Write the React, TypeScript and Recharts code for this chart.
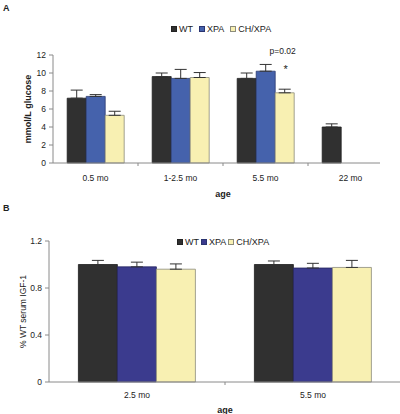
import { BarChart, Bar, XAxis, YAxis, ErrorBar, Legend, LabelList } from "recharts";

// Panel A: blood glucose
const agesA = ["0.5 mo", "1-2.5 mo", "5.5 mo", "22 mo"];
const wtA = [7.2, 9.6, 9.4, 4.0];
const wtErrA = [0.9, 0.4, 0.6, 0.35];
const xpaA = [7.4, 9.4, 10.2, null];
const xpaErrA = [0.2, 1.0, 0.75, null];
const chA = [5.3, 9.5, 7.8, null];
const chErrA = [0.45, 0.55, 0.4, null];
const starA = ["", "", "*", ""];
const pValA = ["", "", "p=0.02", ""];
const ticksA = [0, 2, 4, 6, 8, 10, 12];

// Panel B: serum IGF-1 relative to WT
const agesB = ["2.5 mo", "5.5 mo"];
const wtB = [1.0, 1.0];
const wtErrB = [0.035, 0.03];
const xpaB = [0.98, 0.97];
const xpaErrB = [0.04, 0.04];
const chB = [0.96, 0.975];
const chErrB = [0.045, 0.06];
const ticksB = [0, 0.4, 0.8, 1.2];

const err = (e: number | null) => (e == null ? null : [0, e]);

const dataA = agesA.map((age, i) => ({
  age,
  WT: wtA[i],
  wtErr: err(wtErrA[i]),
  XPA: xpaA[i],
  xpaErr: err(xpaErrA[i]),
  CH: chA[i],
  chErr: err(chErrA[i]),
  star: starA[i],
  p: pValA[i],
}));

const dataB = agesB.map((age, i) => ({
  age,
  WT: wtB[i],
  wtErr: err(wtErrB[i]),
  XPA: xpaB[i],
  xpaErr: err(xpaErrB[i]),
  CH: chB[i],
  chErr: err(chErrB[i]),
}));

const FONT = '"Liberation Sans", Arial, sans-serif';
const AXIS = "#8a8a8a";
const INK = "#222";

const makeLegend = (xpaColor: string, gap: number) => () => (
  <div style={{ display: "flex", alignItems: "center", fontSize: 9, color: INK, whiteSpace: "nowrap", fontFamily: FONT }}>
    {[
      { name: "WT", color: "#303030", border: "#222" },
      { name: "XPA", color: xpaColor, border: "#2a3470" },
      { name: "CH/XPA", color: "#f8f0b2", border: "#8c8c7c" },
    ].map((s) => (
      <span key={s.name} style={{ display: "flex", alignItems: "center", marginRight: gap }}>
        <span style={{ width: 4, height: 4, background: s.color, border: `1px solid ${s.border}`, marginRight: 2 }} />
        {s.name}
      </span>
    ))}
  </div>
);

const makeTick = (half: number, baseline: number, rightEdge: boolean) => (props: any) => {
  const { x, y, payload, index, visibleTicksCount } = props;
  const off = payload.offset || half;
  return (
    <g>
      {index > 0 && <line x1={x - off} x2={x - off} y1={y} y2={y + 3} stroke={AXIS} />}
      {rightEdge && index === visibleTicksCount - 1 && (
        <line x1={x + off} x2={x + off} y1={y} y2={y + 3} stroke={AXIS} />
      )}
      <text x={x} y={y + baseline} textAnchor="middle" fontSize={8.5} fill={INK} fontFamily={FONT}>
        {payload.value}
      </text>
    </g>
  );
};

// rotated y-axis title at a fixed x, centred on the plot height
const yTitle = (text: string, cx: number, bold: boolean, size: number) => (props: any) => {
  const vb = props.viewBox || {};
  const cy = vb.y + vb.height / 2;
  return (
    <text
      x={cx}
      y={cy}
      transform={`rotate(-90 ${cx} ${cy})`}
      textAnchor="middle"
      dominantBaseline="central"
      fontSize={size}
      fontWeight={bold ? "bold" : "normal"}
      fill={INK}
      fontFamily={FONT}
    >
      {text}
    </text>
  );
};

const SigLabel = (props: any) => {
  const { x, y, width, index } = props;
  if (!starA[index]) return null;
  const cx = x + width / 2;
  return (
    <g fontFamily={FONT} fill={INK}>
      <text x={cx - 2} y={y - 39} textAnchor="middle" fontSize={8.5}>
        {pValA[index]}
      </text>
      <text x={cx + 1} y={y - 20} textAnchor="middle" fontSize={11}>
        {starA[index]}
      </text>
    </g>
  );
};

export default function App() {
  return (
    <div style={{ position: "absolute", left: 0, top: 0, width: 400, height: 414, overflow: "hidden", background: "#fff", fontFamily: FONT }}>
      <div style={{ position: "absolute", left: 3, top: 3, fontSize: 9, fontWeight: "bold", color: INK }}>A</div>
      <div style={{ position: "absolute", left: 3, top: 203, fontSize: 9, fontWeight: "bold", color: INK }}>B</div>

      <div style={{ position: "absolute", left: 0, top: 0, width: 380, height: 200, overflow: "hidden" }}>
        <BarChart width={400} height={200} data={dataA} margin={{ top: 55, right: 7, bottom: 0, left: 0 }} barGap={0} barCategoryGap="16.7%">
          <XAxis
            dataKey="age"
            height={37}
            stroke={AXIS}
            tickLine={false}
            tickSize={0}
            tickMargin={0}
            interval={0}
            tick={makeTick(42.5, 18, false)}
            label={{ value: "age", position: "insideBottom", offset: 3, fontSize: 9, fontWeight: "bold", fill: INK, fontFamily: FONT }}
          />
          <YAxis
            width={53}
            domain={[0, 12]}
            ticks={ticksA}
            interval={0}
            stroke={AXIS}
            tickSize={4}
            tickMargin={3}
            tick={{ fontSize: 8.5, fill: INK, fontFamily: FONT }}
            label={{ content: yTitle("mmol/L glucose", 28, true, 9) }}
          />
          <Legend verticalAlign="middle" align="center" wrapperStyle={{ top: 24, left: 171, width: "auto", height: "auto" }} content={makeLegend("#4562ac", 6)} />
          <Bar dataKey="WT" fill="#303030" stroke="#1e1e1e" strokeWidth={0.8} isAnimationActive={false}>
            <ErrorBar dataKey="wtErr" direction="y" width={6} stroke="#333" strokeWidth={1} />
          </Bar>
          <Bar dataKey="XPA" fill="#4562ac" stroke="#2a3a70" strokeWidth={0.8} isAnimationActive={false}>
            <ErrorBar dataKey="xpaErr" direction="y" width={6} stroke="#333" strokeWidth={1} />
          </Bar>
          <Bar dataKey="CH" fill="#f8f0b2" stroke="#8c8c7c" strokeWidth={0.8} isAnimationActive={false}>
            <ErrorBar dataKey="chErr" direction="y" width={6} stroke="#333" strokeWidth={1} />
            <LabelList dataKey="star" content={SigLabel} />
          </Bar>
        </BarChart>
      </div>

      <div style={{ position: "absolute", left: 0, top: 200, width: 400, height: 214, overflow: "hidden" }}>
        <BarChart width={402} height={214} data={dataB} margin={{ top: 41, right: 1, bottom: 0, left: 0 }} barGap={0} barCategoryGap="16.7%">
          <XAxis
            dataKey="age"
            height={32}
            stroke={AXIS}
            tickLine={false}
            tickSize={0}
            tickMargin={0}
            interval={0}
            tick={makeTick(88, 16, true)}
            label={{ value: "age", position: "insideBottom", offset: 1, fontSize: 9, fontWeight: "bold", fill: INK, fontFamily: FONT }}
          />
          <YAxis
            width={49}
            domain={[0, 1.2]}
            ticks={ticksB}
            interval={0}
            stroke={AXIS}
            tickSize={4}
            tickMargin={3}
            tick={{ fontSize: 8.5, fill: INK, fontFamily: FONT }}
            label={{ content: yTitle("% WT serum IGF-1", 23, false, 8.5) }}
          />
          <Legend verticalAlign="middle" align="center" wrapperStyle={{ top: 37, left: 177, width: "auto", height: "auto" }} content={makeLegend("#3b3b8e", 2)} />
          <Bar dataKey="WT" fill="#303030" stroke="#1e1e1e" strokeWidth={0.8} isAnimationActive={false}>
            <ErrorBar dataKey="wtErr" direction="y" width={6} stroke="#333" strokeWidth={1} />
          </Bar>
          <Bar dataKey="XPA" fill="#3b3b8e" stroke="#26265e" strokeWidth={0.8} isAnimationActive={false}>
            <ErrorBar dataKey="xpaErr" direction="y" width={6} stroke="#333" strokeWidth={1} />
          </Bar>
          <Bar dataKey="CH" fill="#f8f0b2" stroke="#8c8c7c" strokeWidth={0.8} isAnimationActive={false}>
            <ErrorBar dataKey="chErr" direction="y" width={6} stroke="#333" strokeWidth={1} />
          </Bar>
        </BarChart>
      </div>
    </div>
  );
}
